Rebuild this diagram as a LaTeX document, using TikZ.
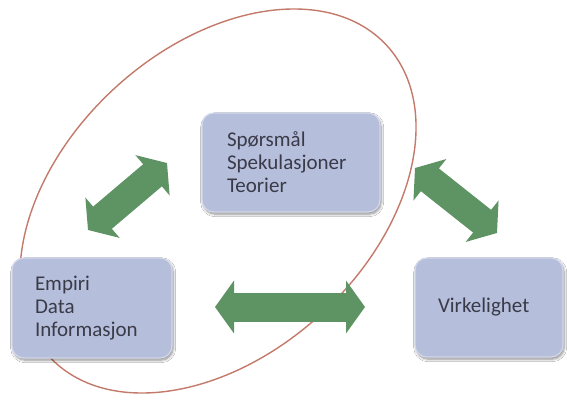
\documentclass[tikz,border=0pt]{standalone}
\usepackage{fontspec}
\setmainfont{Carlito}
\usetikzlibrary{arrows.meta,shadows.blur}
\definecolor{boxfill}{HTML}{B5BFDB}
\definecolor{boxline}{HTML}{D3D9EA}
\definecolor{arrgreen}{HTML}{5E9364}
\definecolor{ellred}{HTML}{C47A6A}
\definecolor{txt}{HTML}{3A3A48}
\tikzset{
  infobox/.style={rectangle, rounded corners=12pt, fill=boxfill, draw=boxline, line width=1.2pt,
    text=txt, font=\fontsize{21}{23}\selectfont, align=left, inner ysep=0pt,
    blur shadow={shadow xshift=1.2pt, shadow yshift=-2.2pt, shadow blur steps=6, shadow blur radius=2.5pt, shadow opacity=45}},
  blockarrow/.style={draw=arrgreen, line width=29pt,
    {Triangle[length=19pt,width=52pt]}-{Triangle[length=19pt,width=52pt]}},
  loop/.style={draw=ellred, line width=1.4pt}
}
\begin{document}
\begin{tikzpicture}[x=1pt,y=-1pt]
\useasboundingbox[fill=white] (0,0) rectangle (567,399);
% ellipse
\draw[loop, rotate around={42.7:(218,201)}] (218,201) ellipse [x radius=229.5pt, y radius=153pt];
% arrows
\coordinate (h1) at (215,307);
\coordinate (h2) at (365,307);
\coordinate (l1) at (88,230);
\coordinate (l2) at (167,163);
\coordinate (r1) at (415,168);
\coordinate (r2) at (497,233);
\draw[blockarrow] (h1) -- (h2);
\draw[blockarrow] (l1) -- (l2);
\draw[blockarrow] (r1) -- (r2);
% boxes
\node[infobox, minimum width=178pt, minimum height=99pt, inner xsep=25pt, text width=128pt] (top) at (291,162.5)
  {Spørsmål\\Spekulasjoner\\Teorier};
\node[infobox, minimum width=160pt, minimum height=100pt, inner xsep=23pt, text width=114pt] (left) at (92,308)
  {Empiri\\Data\\Informasjon};
\node[infobox, minimum width=148pt, minimum height=99pt, inner xsep=23pt, text width=102pt] (right) at (489,307.5)
  {Virkelighet};
\end{tikzpicture}
\end{document}
